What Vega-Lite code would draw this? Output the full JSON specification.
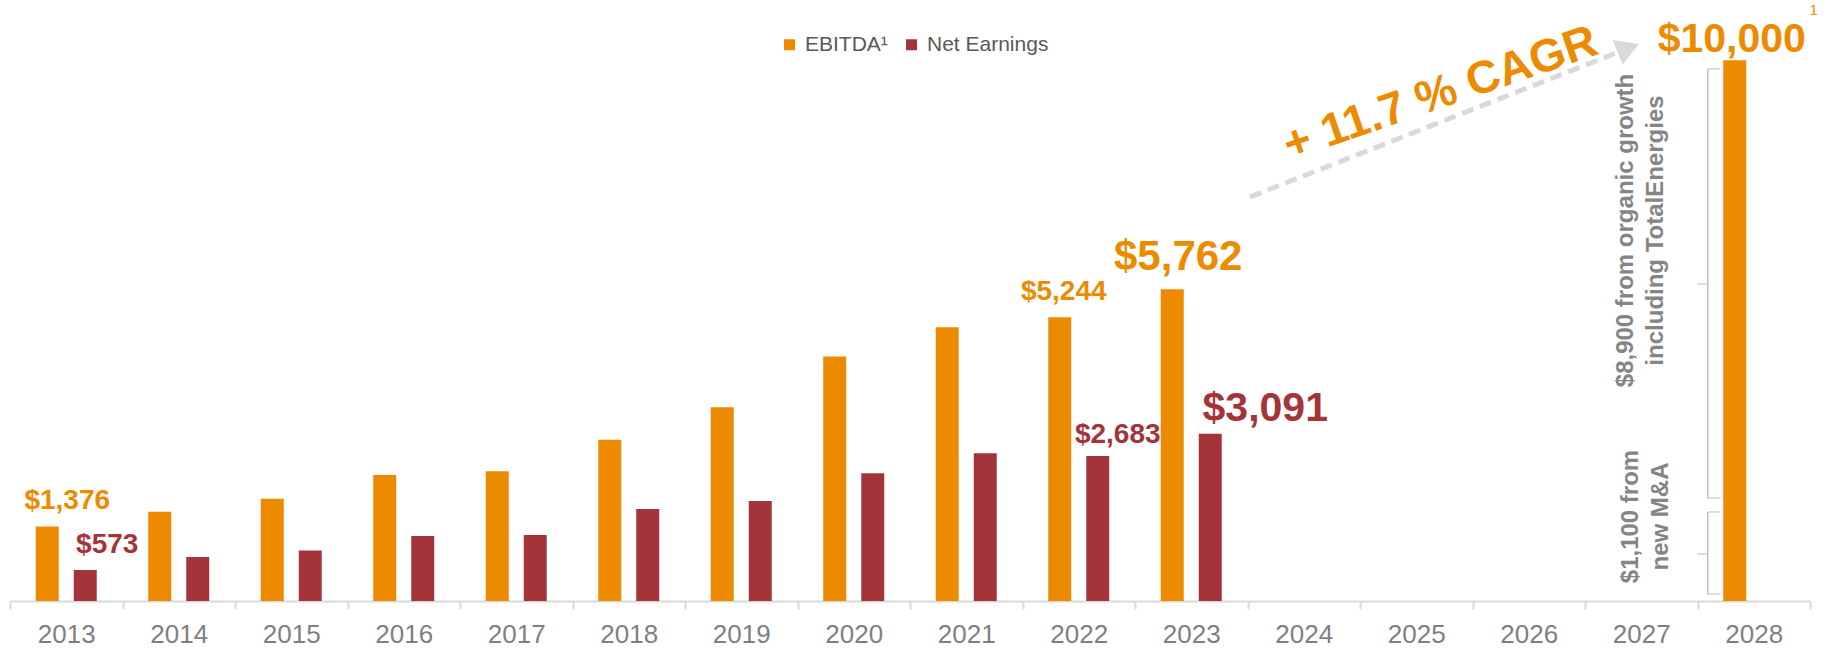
{
  "$schema": "https://vega.github.io/schema/vega-lite/v6.json",
  "width": 1800,
  "height": 601,
  "autosize": {"type": "none"},
  "padding": {"left": 10, "top": 0, "right": 21, "bottom": 47},
  "config": {"view": {"stroke": null}, "font": "Liberation Sans"},
  "datasets": {
    "bars": [
      {"year": "2013", "series": "EBITDA", "value": 1376},
      {"year": "2013", "series": "Net Earnings", "value": 573},
      {"year": "2014", "series": "EBITDA", "value": 1650},
      {"year": "2014", "series": "Net Earnings", "value": 815},
      {"year": "2015", "series": "EBITDA", "value": 1890},
      {"year": "2015", "series": "Net Earnings", "value": 935},
      {"year": "2016", "series": "EBITDA", "value": 2330},
      {"year": "2016", "series": "Net Earnings", "value": 1200},
      {"year": "2017", "series": "EBITDA", "value": 2400},
      {"year": "2017", "series": "Net Earnings", "value": 1220},
      {"year": "2018", "series": "EBITDA", "value": 2980},
      {"year": "2018", "series": "Net Earnings", "value": 1700},
      {"year": "2019", "series": "EBITDA", "value": 3580},
      {"year": "2019", "series": "Net Earnings", "value": 1850},
      {"year": "2020", "series": "EBITDA", "value": 4520},
      {"year": "2020", "series": "Net Earnings", "value": 2360},
      {"year": "2021", "series": "EBITDA", "value": 5060},
      {"year": "2021", "series": "Net Earnings", "value": 2730},
      {"year": "2022", "series": "EBITDA", "value": 5244},
      {"year": "2022", "series": "Net Earnings", "value": 2683},
      {"year": "2023", "series": "EBITDA", "value": 5762},
      {"year": "2023", "series": "Net Earnings", "value": 3091},
      {"year": "2028", "series": "EBITDA", "value": 10000}
    ],
    "braces": [
      {"year": "2028", "part": "organic", "top": 9840, "mid": 5861, "bottom": 1904},
      {"year": "2028", "part": "mna", "top": 1646, "mid": 869, "bottom": 129}
    ]
  },
  "resolve": {"scale": {"x": "independent"}, "axis": {"x": "independent"}},
  "layer": [
    {
      "data": {"name": "bars"},
      "mark": {"type": "bar"},
      "encoding": {
        "x": {
          "field": "year", "type": "nominal", "sort": null,
          "scale": {"domain": ["2013","2014","2015","2016","2017","2018","2019","2020","2021","2022","2023","2024","2025","2026","2027","2028"], "paddingInner": 0, "paddingOuter": 0},
          "axis": {"title": null, "orient": "bottom", "tickBand": "extent", "domainColor": "#D9D9D9", "domainWidth": 2, "tickColor": "#D9D9D9", "tickWidth": 2, "tickSize": 8, "labelFontSize": 26, "labelColor": "#7F7F7F", "labelFont": "Liberation Sans", "labelPadding": 12, "labelAngle": 0, "grid": false}
        },
        "xOffset": {"field": "series", "type": "nominal", "scale": {"domain": ["EBITDA", "Net Earnings"], "paddingInner": 0.3947, "paddingOuter": 0.6776}},
        "y": {"field": "value", "type": "quantitative", "scale": {"domain": [0, 11112], "nice": false, "zero": true}, "axis": null},
        "color": {
          "field": "series", "type": "nominal",
          "scale": {"domain": ["EBITDA", "Net Earnings"], "range": ["#ED8B00", "#A4343A"]},
          "legend": {"orient": "none", "legendX": 769, "legendY": 34, "direction": "horizontal", "title": null, "symbolType": "square", "symbolSize": 121, "symbolStrokeWidth": 0, "labelFontSize": 21, "labelColor": "#595959", "labelFont": "Liberation Sans", "columnPadding": 13, "labelOffset": 5, "padding": 0, "labelExpr": "datum.label == 'EBITDA' ? 'EBITDA¹' : datum.label"}
        }
      }
    },
    {
      "data": {"name": "bars"},
      "transform": [{"filter": "datum.year == '2013' && datum.series == 'EBITDA'"}],
      "mark": {"type": "text", "fontWeight": "bold", "fontSize": 28, "color": "#ED8B00", "align": "center", "baseline": "alphabetic", "dx": 1, "dy": -18},
      "encoding": {
        "x": {"field": "year", "type": "nominal", "sort": null, "scale": {"domain": ["2013","2014","2015","2016","2017","2018","2019","2020","2021","2022","2023","2024","2025","2026","2027","2028"], "paddingInner": 0, "paddingOuter": 0}, "axis": null},
        "y": {"field": "value", "type": "quantitative", "scale": {"domain": [0, 11112], "nice": false, "zero": true}, "axis": null},
        "text": {"field": "value", "type": "quantitative", "format": "$,.0f"}
      }
    },
    {
      "data": {"name": "bars"},
      "transform": [{"filter": "datum.year == '2013' && datum.series == 'Net Earnings'"}],
      "mark": {"type": "text", "fontWeight": "bold", "fontSize": 28, "color": "#A4343A", "align": "center", "baseline": "alphabetic", "dx": 41, "dy": -17},
      "encoding": {
        "x": {"field": "year", "type": "nominal", "sort": null, "scale": {"domain": ["2013","2014","2015","2016","2017","2018","2019","2020","2021","2022","2023","2024","2025","2026","2027","2028"], "paddingInner": 0, "paddingOuter": 0}, "axis": null},
        "y": {"field": "value", "type": "quantitative", "scale": {"domain": [0, 11112], "nice": false, "zero": true}, "axis": null},
        "text": {"field": "value", "type": "quantitative", "format": "$,.0f"}
      }
    },
    {
      "data": {"name": "bars"},
      "transform": [{"filter": "datum.year == '2022' && datum.series == 'EBITDA'"}],
      "mark": {"type": "text", "fontWeight": "bold", "fontSize": 28, "color": "#ED8B00", "align": "center", "baseline": "alphabetic", "dx": -15, "dy": -17},
      "encoding": {
        "x": {"field": "year", "type": "nominal", "sort": null, "scale": {"domain": ["2013","2014","2015","2016","2017","2018","2019","2020","2021","2022","2023","2024","2025","2026","2027","2028"], "paddingInner": 0, "paddingOuter": 0}, "axis": null},
        "y": {"field": "value", "type": "quantitative", "scale": {"domain": [0, 11112], "nice": false, "zero": true}, "axis": null},
        "text": {"field": "value", "type": "quantitative", "format": "$,.0f"}
      }
    },
    {
      "data": {"name": "bars"},
      "transform": [{"filter": "datum.year == '2022' && datum.series == 'Net Earnings'"}],
      "mark": {"type": "text", "fontWeight": "bold", "fontSize": 28, "color": "#A4343A", "align": "center", "baseline": "alphabetic", "dx": 39, "dy": -13},
      "encoding": {
        "x": {"field": "year", "type": "nominal", "sort": null, "scale": {"domain": ["2013","2014","2015","2016","2017","2018","2019","2020","2021","2022","2023","2024","2025","2026","2027","2028"], "paddingInner": 0, "paddingOuter": 0}, "axis": null},
        "y": {"field": "value", "type": "quantitative", "scale": {"domain": [0, 11112], "nice": false, "zero": true}, "axis": null},
        "text": {"field": "value", "type": "quantitative", "format": "$,.0f"}
      }
    },
    {
      "data": {"name": "bars"},
      "transform": [{"filter": "datum.year == '2023' && datum.series == 'EBITDA'"}],
      "mark": {"type": "text", "fontWeight": "bold", "fontSize": 42, "color": "#ED8B00", "align": "center", "baseline": "alphabetic", "dx": -13, "dy": -19},
      "encoding": {
        "x": {"field": "year", "type": "nominal", "sort": null, "scale": {"domain": ["2013","2014","2015","2016","2017","2018","2019","2020","2021","2022","2023","2024","2025","2026","2027","2028"], "paddingInner": 0, "paddingOuter": 0}, "axis": null},
        "y": {"field": "value", "type": "quantitative", "scale": {"domain": [0, 11112], "nice": false, "zero": true}, "axis": null},
        "text": {"field": "value", "type": "quantitative", "format": "$,.0f"}
      }
    },
    {
      "data": {"name": "bars"},
      "transform": [{"filter": "datum.year == '2023' && datum.series == 'Net Earnings'"}],
      "mark": {"type": "text", "fontWeight": "bold", "fontSize": 41, "color": "#A4343A", "align": "center", "baseline": "alphabetic", "dx": 74, "dy": -13},
      "encoding": {
        "x": {"field": "year", "type": "nominal", "sort": null, "scale": {"domain": ["2013","2014","2015","2016","2017","2018","2019","2020","2021","2022","2023","2024","2025","2026","2027","2028"], "paddingInner": 0, "paddingOuter": 0}, "axis": null},
        "y": {"field": "value", "type": "quantitative", "scale": {"domain": [0, 11112], "nice": false, "zero": true}, "axis": null},
        "text": {"field": "value", "type": "quantitative", "format": "$,.0f"}
      }
    },
    {
      "data": {"name": "bars"},
      "transform": [{"filter": "datum.year == '2028'"}],
      "mark": {"type": "text", "fontWeight": "bold", "fontSize": 41, "color": "#ED8B00", "align": "center", "baseline": "alphabetic", "dx": -22, "dy": -8},
      "encoding": {
        "x": {"field": "year", "type": "nominal", "sort": null, "scale": {"domain": ["2013","2014","2015","2016","2017","2018","2019","2020","2021","2022","2023","2024","2025","2026","2027","2028"], "paddingInner": 0, "paddingOuter": 0}, "axis": null},
        "y": {"field": "value", "type": "quantitative", "scale": {"domain": [0, 11112], "nice": false, "zero": true}, "axis": null},
        "text": {"field": "value", "type": "quantitative", "format": "$,.0f"}
      }
    },
    {
      "data": {"name": "bars"},
      "transform": [{"filter": "datum.year == '2028'"}],
      "mark": {"type": "text", "fontSize": 14, "color": "#ED8B00", "align": "left", "baseline": "alphabetic", "dx": 56, "dy": -45, "text": "1"},
      "encoding": {
        "x": {"field": "year", "type": "nominal", "sort": null, "scale": {"domain": ["2013","2014","2015","2016","2017","2018","2019","2020","2021","2022","2023","2024","2025","2026","2027","2028"], "paddingInner": 0, "paddingOuter": 0}, "axis": null},
        "y": {"field": "value", "type": "quantitative", "scale": {"domain": [0, 11112], "nice": false, "zero": true}, "axis": null}
      }
    },
    {
      "data": {"name": "braces"},
      "mark": {"type": "rule", "color": "#BFBFBF", "strokeWidth": 1.5, "xOffset": -46},
      "encoding": {
        "x": {"field": "year", "type": "nominal", "sort": null, "scale": {"domain": ["2013","2014","2015","2016","2017","2018","2019","2020","2021","2022","2023","2024","2025","2026","2027","2028"], "paddingInner": 0, "paddingOuter": 0}, "axis": null},
        "y": {"field": "top", "type": "quantitative", "scale": {"domain": [0, 11112], "nice": false, "zero": true}, "axis": null},
        "y2": {"field": "bottom"}
      }
    },
    {
      "data": {"name": "braces"},
      "mark": {"type": "tick", "color": "#BFBFBF", "thickness": 1.5, "size": 13, "xOffset": -39.5},
      "encoding": {
        "x": {"field": "year", "type": "nominal", "sort": null, "scale": {"domain": ["2013","2014","2015","2016","2017","2018","2019","2020","2021","2022","2023","2024","2025","2026","2027","2028"], "paddingInner": 0, "paddingOuter": 0}, "axis": null},
        "y": {"field": "top", "type": "quantitative", "scale": {"domain": [0, 11112], "nice": false, "zero": true}, "axis": null}
      }
    },
    {
      "data": {"name": "braces"},
      "mark": {"type": "tick", "color": "#BFBFBF", "thickness": 1.5, "size": 13, "xOffset": -39.5},
      "encoding": {
        "x": {"field": "year", "type": "nominal", "sort": null, "scale": {"domain": ["2013","2014","2015","2016","2017","2018","2019","2020","2021","2022","2023","2024","2025","2026","2027","2028"], "paddingInner": 0, "paddingOuter": 0}, "axis": null},
        "y": {"field": "bottom", "type": "quantitative", "scale": {"domain": [0, 11112], "nice": false, "zero": true}, "axis": null}
      }
    },
    {
      "data": {"name": "braces"},
      "mark": {"type": "tick", "color": "#BFBFBF", "thickness": 1.5, "size": 10, "xOffset": -51.5},
      "encoding": {
        "x": {"field": "year", "type": "nominal", "sort": null, "scale": {"domain": ["2013","2014","2015","2016","2017","2018","2019","2020","2021","2022","2023","2024","2025","2026","2027","2028"], "paddingInner": 0, "paddingOuter": 0}, "axis": null},
        "y": {"field": "mid", "type": "quantitative", "scale": {"domain": [0, 11112], "nice": false, "zero": true}, "axis": null}
      }
    },
    {
      "data": {"values": [{"year": "2028", "value": 5861, "note": "$8,900 from organic growth\nincluding TotalEnergies"}]},
      "mark": {"type": "text", "angle": 270, "align": "center", "baseline": "alphabetic", "fontSize": 24, "fontWeight": "bold", "color": "#858585", "lineBreak": "\n", "lineHeight": 30, "xOffset": -120.75, "yOffset": -53.5},
      "encoding": {
        "x": {"field": "year", "type": "nominal", "sort": null, "scale": {"domain": ["2013","2014","2015","2016","2017","2018","2019","2020","2021","2022","2023","2024","2025","2026","2027","2028"], "paddingInner": 0, "paddingOuter": 0}, "axis": null},
        "y": {"field": "value", "type": "quantitative", "scale": {"domain": [0, 11112], "nice": false, "zero": true}, "axis": null},
        "text": {"field": "note", "type": "nominal"}
      }
    },
    {
      "data": {"values": [{"year": "2028", "value": 869, "note": "$1,100 from\nnew M&A"}]},
      "mark": {"type": "text", "angle": 270, "align": "center", "baseline": "alphabetic", "fontSize": 24, "fontWeight": "bold", "color": "#858585", "lineBreak": "\n", "lineHeight": 30, "xOffset": -115.75, "yOffset": -37.5},
      "encoding": {
        "x": {"field": "year", "type": "nominal", "sort": null, "scale": {"domain": ["2013","2014","2015","2016","2017","2018","2019","2020","2021","2022","2023","2024","2025","2026","2027","2028"], "paddingInner": 0, "paddingOuter": 0}, "axis": null},
        "y": {"field": "value", "type": "quantitative", "scale": {"domain": [0, 11112], "nice": false, "zero": true}, "axis": null},
        "text": {"field": "note", "type": "nominal"}
      }
    },
    {
      "data": {"values": [{"pos": 2023.522, "value": 7470}, {"pos": 2026.885, "value": 10221}]},
      "mark": {"type": "line", "color": "#D9D9D9", "strokeWidth": 5, "strokeDash": [12, 7]},
      "encoding": {
        "x": {"field": "pos", "type": "quantitative", "scale": {"domain": [2012.5, 2028.5], "nice": false, "zero": false}, "axis": null},
        "y": {"field": "value", "type": "quantitative", "scale": {"domain": [0, 11112], "nice": false, "zero": true}, "axis": null}
      }
    },
    {
      "data": {"values": [{"pos": 2026.885, "value": 10221}]},
      "mark": {"type": "point", "shape": "triangle-right", "filled": true, "size": 700, "angle": 338.5, "color": "#D9D9D9", "opacity": 1},
      "encoding": {
        "x": {"field": "pos", "type": "quantitative", "scale": {"domain": [2012.5, 2028.5], "nice": false, "zero": false}, "axis": null},
        "y": {"field": "value", "type": "quantitative", "scale": {"domain": [0, 11112], "nice": false, "zero": true}, "axis": null}
      }
    },
    {
      "data": {"values": [{"pos": 2025.256, "value": 9134, "note": "+ 11.7 % CAGR"}]},
      "mark": {"type": "text", "angle": 341, "align": "center", "baseline": "alphabetic", "fontSize": 46, "fontWeight": "bold", "color": "#ED8B00"},
      "encoding": {
        "x": {"field": "pos", "type": "quantitative", "scale": {"domain": [2012.5, 2028.5], "nice": false, "zero": false}, "axis": null},
        "y": {"field": "value", "type": "quantitative", "scale": {"domain": [0, 11112], "nice": false, "zero": true}, "axis": null},
        "text": {"field": "note", "type": "nominal"}
      }
    }
  ]
}
